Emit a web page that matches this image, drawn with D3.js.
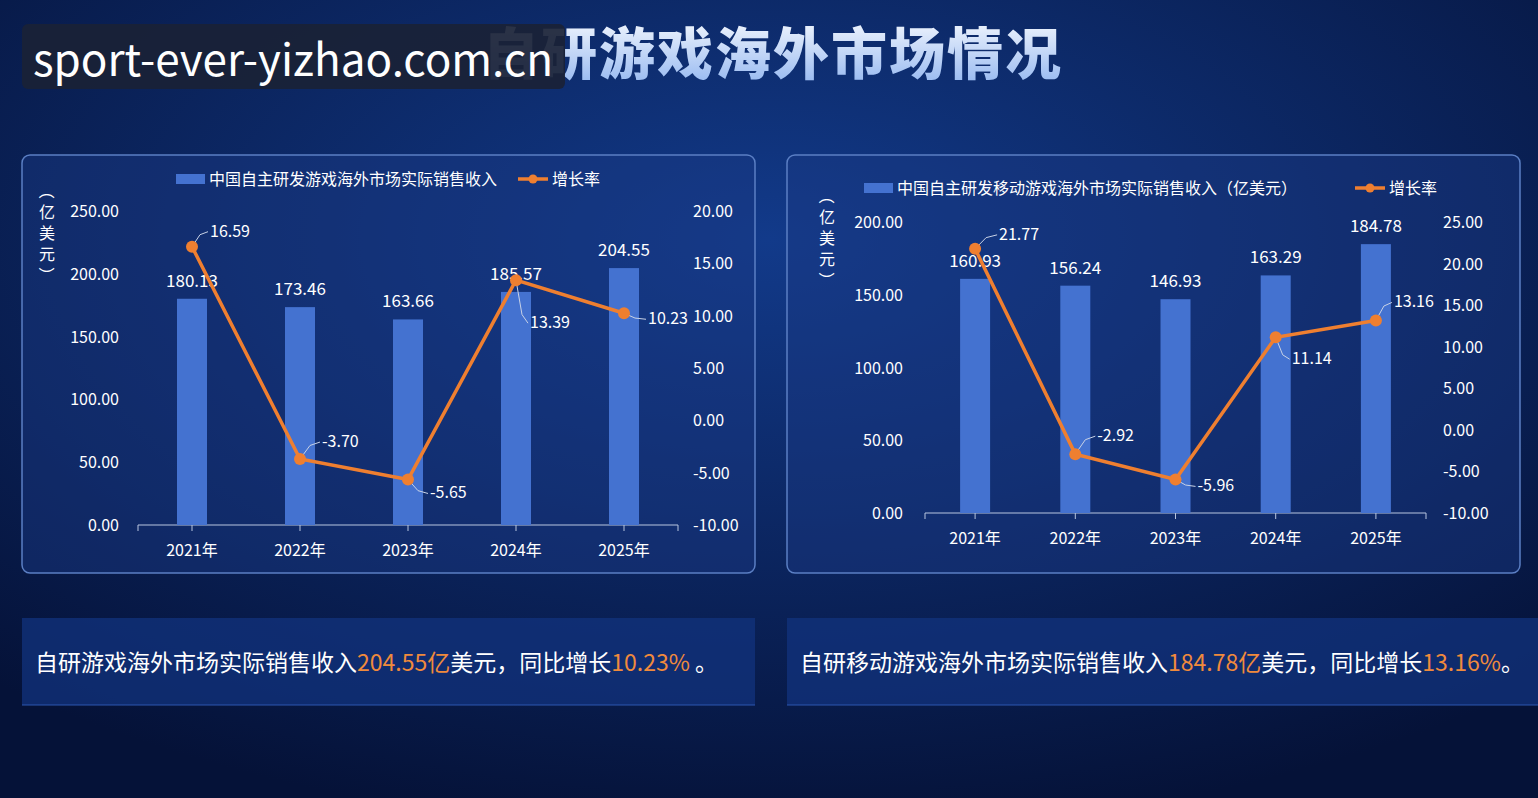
<!DOCTYPE html><html><head><meta charset="utf-8">
<script src="https://cdn.jsdelivr.net/npm/d3@7"></script>
<style>body{margin:0;background:#061440;overflow:hidden}svg{display:block}text{font-family:"Noto Sans CJK SC","Noto Sans",sans-serif}</style></head><body>
<svg id="c" width="1538" height="798"></svg>
<script>
const years=["2021年","2022年","2023年","2024年","2025年"];
const revA=[180.13,173.46,163.66,185.57,204.55];
const rateA=[16.59,-3.70,-5.65,13.39,10.23];
const revB=[160.93,156.24,146.93,163.29,184.78];
const rateB=[21.77,-2.92,-5.96,11.14,13.16];
const ticksLA=[0,50,100,150,200,250], ticksRA=[-10,-5,0,5,10,15,20];
const ticksLB=[0,50,100,150,200], ticksRB=[-10,-5,0,5,10,15,20,25];
const svg=d3.select("#c");
const defs=svg.append("defs");
const bg=defs.append("radialGradient").attr("id","bg").attr("cx","50%").attr("cy","30%").attr("r","75%");
bg.append("stop").attr("offset","0").attr("stop-color","#123a8a");
bg.append("stop").attr("offset","1").attr("stop-color","#051238");
const tg=defs.append("linearGradient").attr("id","tg").attr("x1",0).attr("y1",0).attr("x2",0).attr("y2",1);
tg.append("stop").attr("offset","0").attr("stop-color","#ffffff");
tg.append("stop").attr("offset","1").attr("stop-color","#8fb4f0");
svg.append("rect").attr("width",1538).attr("height",798).attr("fill","url(#bg)");
svg.append("text").attr("x",773).attr("y",74).attr("text-anchor","middle").attr("font-size",56).attr("font-weight",900).attr("fill","url(#tg)").attr("letter-spacing",2).text("自研游戏海外市场情况");
svg.append("rect").attr("x",22).attr("y",24).attr("width",543).attr("height",65).attr("rx",6).attr("fill","#1a2236").attr("opacity",0.92);
svg.append("text").attr("x",33).attr("y",76).attr("font-size",44).attr("fill","#fff").attr("font-family","Noto Sans").text("sport-ever-yizhao.com.cn");

function chart(o){
  svg.append("rect").attr("x",o.px).attr("y",155).attr("width",o.pw).attr("height",418).attr("rx",8)
   .attr("fill","#1a3a86").attr("fill-opacity",0.45).attr("stroke","#5b7fc4").attr("stroke-width",1.5);
  const x=d3.scaleBand().domain(years).range([o.x0,o.x1]);
  const yL=d3.scaleLinear().domain([0,o.maxL]).range([o.base,o.top]);
  const yR=d3.scaleLinear().domain([-10,o.maxR]).range([o.base,o.top]);
  const g=svg.append("g");
  const ax=g.append("g").attr("transform",`translate(0,${o.base})`).call(d3.axisBottom(x).tickSize(6).tickPadding(14));
  ax.selectAll("line,path").attr("stroke","#b8c6e0");
  ax.select("path").attr("d",`M${o.x0},6V0H${o.x1}V6`);
  ax.selectAll("text").attr("fill","#fff").attr("font-size",16);
  o.tL.forEach(t=>g.append("text").attr("x",o.lx).attr("y",yL(t)+6).attr("text-anchor","end").attr("fill","#fff").attr("font-size",16).text(t.toFixed(2)));
  o.tR.forEach(t=>g.append("text").attr("x",o.rx).attr("y",yR(t)+6).attr("fill","#fff").attr("font-size",16).text(t.toFixed(2)));
  ["（","亿","美","元","）"].forEach((c,i)=>g.append("text").attr("x",o.vx).attr("y",o.vy+i*21).attr("text-anchor","middle").attr("fill","#fff").attr("font-size",16)
     .attr("transform",(c=="（"||c=="）")?`rotate(90,${o.vx},${o.vy+i*21-6})`:null).text(c));
  const bw=30;
  g.selectAll(".b").data(o.rev).join("rect").attr("x",(d,i)=>x(years[i])+x.bandwidth()/2-bw/2).attr("y",d=>yL(d)).attr("width",bw).attr("height",d=>o.base-yL(d)).attr("fill","#4472d0");
  g.selectAll(".bl").data(o.rev).join("text").attr("x",(d,i)=>x(years[i])+x.bandwidth()/2).attr("y",d=>yL(d)-12).attr("text-anchor","middle").attr("fill","#fff").attr("font-size",17).text(d=>d.toFixed(2));
  const cx=i=>x(years[i])+x.bandwidth()/2;
  g.append("path").datum(o.rate).attr("d",d3.line().x((d,i)=>cx(i)).y(d=>yR(d))).attr("fill","none").attr("stroke","#ef7f30").attr("stroke-width",3.5);
  o.rate.forEach((d,i)=>{
    const px=cx(i),py=yR(d),[dx,dy]=o.off[i];
    g.append("path").attr("d",`M${px},${py}L${px+dx*0.5},${py+dy*0.8}L${px+dx},${py+dy}`).attr("fill","none").attr("stroke","#c8d2e6").attr("stroke-width",1);
    g.append("circle").attr("cx",px).attr("cy",py).attr("r",6).attr("fill","#ef7f30");
    g.append("text").attr("x",px+dx+2).attr("y",py+dy+5).attr("fill","#fff").attr("font-size",16).text(d.toFixed(2));
  });
  g.append("rect").attr("x",o.lg).attr("y",o.ly-5).attr("width",29).attr("height",10).attr("fill","#4472d0");
  g.append("text").attr("x",o.lg+33).attr("y",o.ly+6).attr("fill","#fff").attr("font-size",16).text(o.name);
  g.append("line").attr("x1",o.lg2).attr("x2",o.lg2+30).attr("y1",o.ly).attr("y2",o.ly).attr("stroke","#ef7f30").attr("stroke-width",3.5);
  g.append("circle").attr("cx",o.lg2+15).attr("cy",o.ly).attr("r",4.5).attr("fill","#ef7f30");
  g.append("text").attr("x",o.lg2+34).attr("y",o.ly+6).attr("fill","#fff").attr("font-size",16).text("增长率");
}
chart({px:22,pw:733,x0:138,x1:678,base:525,top:211,maxL:250,maxR:20,tL:ticksLA,tR:ticksRA,lx:119,rx:693,vx:47,vy:197,rev:revA,rate:rateA,
  off:[[16,-15],[20,-17],[20,14],[12,43],[22,6]],lg:176,ly:179,lg2:518,name:"中国自主研发游戏海外市场实际销售收入"});
chart({px:787,pw:733,x0:925,x1:1426,base:513,top:222,maxL:200,maxR:25,tL:ticksLB,tR:ticksRB,lx:903,rx:1443,vx:827,vy:202,rev:revB,rate:rateB,
  off:[[22,-14],[20,-18],[20,7],[14,22],[16,-18]],lg:864,ly:188,lg2:1355,name:"中国自主研发移动游戏海外市场实际销售收入（亿美元）"});

function box(x,w,parts){
  svg.append("rect").attr("x",x).attr("y",618).attr("width",w).attr("height",87).attr("fill","#12337e").attr("fill-opacity",0.75);
  svg.append("line").attr("x1",x).attr("x2",x+w).attr("y1",705).attr("y2",705).attr("stroke","#2c56b0");
  const t=svg.append("text").attr("x",x+13).attr("y",671).attr("font-size",23).attr("fill","#fff");
  parts.forEach(p=>t.append("tspan").attr("fill",p[1]?"#f08a3c":"#fff").text(p[0]));
}
box(22,733,[["自研游戏海外市场实际销售收入"],[revA[4].toFixed(2)+"亿",1],["美元，同比增长"],[rateA[4].toFixed(2)+"%",1],[" 。"]]);
box(787,751,[["自研移动游戏海外市场实际销售收入"],[revB[4].toFixed(2)+"亿",1],["美元，同比增长"],[rateB[4].toFixed(2)+"%",1],["。"]]);
</script></body></html>
